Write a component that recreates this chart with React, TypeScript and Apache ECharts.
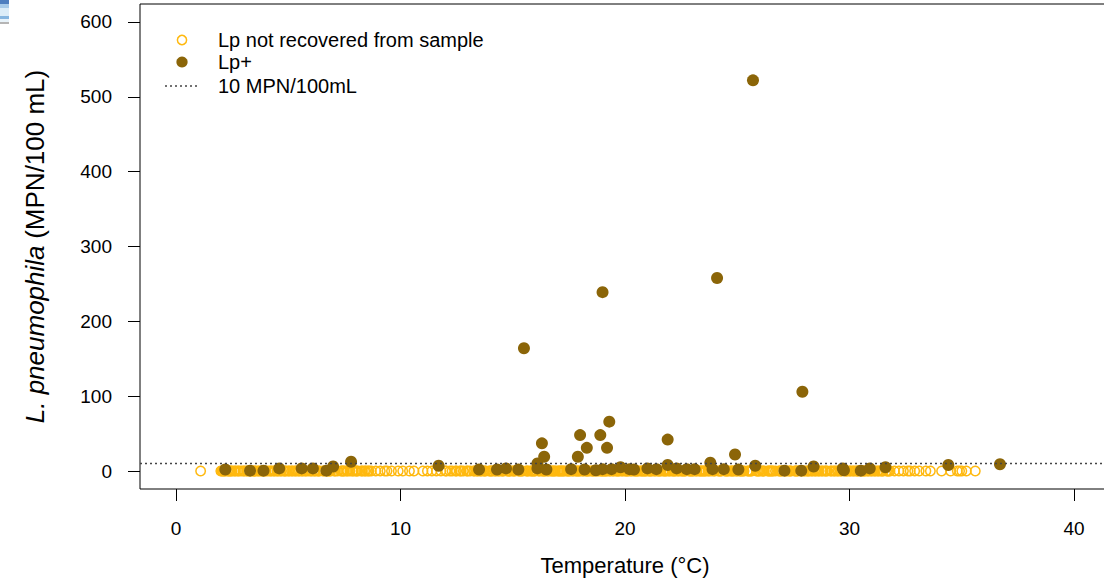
import React, { useEffect, useRef } from "react";
import * as echarts from "echarts";

const X_TICKS = [0, 10, 20, 30, 40];
const Y_TICKS = [0, 100, 200, 300, 400, 500, 600];
const THRESHOLD = 10;

// Samples where Lp was not recovered (MPN = 0)
const NOT_RECOVERED_TEMPS = [
  1.1,
  2.0, 2.1, 2.2, 2.3, 2.4, 2.5, 2.6, 2.8, 2.9, 3.0, 3.2, 3.3, 3.4, 3.5, 3.7, 3.8, 4.0, 4.1, 4.2,
  4.4, 4.5, 4.7, 4.8, 4.9, 5.0, 5.2, 5.3, 5.5, 5.6, 5.8, 5.9, 6.0, 6.2, 6.3, 6.4, 6.6, 6.8, 6.9,
  7.1, 7.2, 7.4, 7.5, 7.6, 7.9, 8.0, 8.1, 8.3, 8.4, 8.6, 8.7, 8.9, 9.1, 9.3, 9.4, 9.6, 9.9, 10.1,
  10.4, 10.6, 11.0, 11.2, 11.4, 11.6, 11.8, 12.0, 12.2, 12.3, 12.5, 12.7, 12.8, 13.0, 13.1, 13.3,
  13.4, 13.6, 13.7, 13.8, 14.0, 14.1, 14.2, 14.4, 14.5, 14.6, 14.8, 14.9, 15.0, 15.1, 15.3, 15.4,
  15.6, 15.7, 15.8, 15.9, 16.0, 16.2, 16.3, 16.4, 16.6, 16.7, 16.8, 16.9, 17.0, 17.1, 17.2, 17.3,
  17.4, 17.5, 17.7, 17.8, 17.9, 18.0, 18.1, 18.3, 18.4, 18.5, 18.6, 18.8, 18.9, 19.0, 19.1, 19.2,
  19.3, 19.5, 19.6, 19.7, 19.9, 20.0, 20.1, 20.3, 20.4, 20.5, 20.6, 20.7, 20.8, 20.9, 21.1, 21.2,
  21.3, 21.5, 21.6, 21.7, 21.8, 22.0, 22.1, 22.2, 22.4, 22.5, 22.6, 22.7, 22.9, 23.0, 23.2, 23.3,
  23.4, 23.5, 23.6, 23.7, 24.0, 24.2, 24.3, 24.5, 24.6, 24.7, 24.8, 25.0, 25.1, 25.2, 25.3, 25.5,
  25.6, 25.9, 26.0, 26.1, 26.2, 26.4, 26.5, 26.6, 26.7, 26.9, 27.0, 27.2, 27.3, 27.4, 27.6, 27.7,
  28.0, 28.1, 28.2, 28.3, 28.5, 28.6, 28.8, 28.9, 29.0, 29.2, 29.3, 29.5, 29.6, 29.8, 29.9, 30.0,
  30.2, 30.3, 30.4, 30.6, 30.7, 30.8, 31.0, 31.1, 31.3, 31.4, 31.5, 31.7, 31.8, 32.0, 32.2, 32.4,
  32.6, 32.7, 32.9, 33.1, 33.4, 33.6, 34.1, 34.5, 34.8, 34.9, 35.0, 35.2, 35.6,
];
// More not-recovered samples where the band is densest
const NOT_RECOVERED_TEMPS_2 = [
  2.05, 2.15, 2.35, 2.45, 2.65, 2.75, 3.05, 3.15, 3.45, 3.55, 3.65, 3.85, 3.95, 4.25, 4.35, 4.55,
  4.65, 4.85, 5.05, 5.15, 5.35, 5.45, 5.65, 5.75, 6.05, 6.15, 6.35, 6.55, 6.75, 6.85, 7.05, 7.35,
  7.45, 7.65, 7.75, 7.85, 8.05, 8.25, 8.45, 8.55,
  12.05, 12.45, 12.65, 12.95, 13.25, 13.45, 13.55, 13.75, 13.95, 14.05, 14.25, 14.35, 14.55, 14.75,
  14.85, 15.05, 15.25, 15.35, 15.45, 15.65, 15.85, 15.95, 16.15, 16.35, 16.45, 16.55, 16.75, 16.85,
  17.05, 17.15, 17.25, 17.45, 17.55, 17.65, 17.85, 17.95, 18.15, 18.25, 18.35, 18.55, 18.65, 18.75,
  18.95, 19.05, 19.15, 19.35, 19.45, 19.65, 19.75, 19.85, 20.05, 20.15, 20.25, 20.45, 20.55, 20.75,
  20.85, 20.95, 21.05, 21.15, 21.35, 21.45, 21.55, 21.75, 21.85, 21.95, 22.15, 22.25, 22.35, 22.55,
  22.65, 22.85, 22.95, 23.05, 23.15, 23.35, 23.45, 23.55, 23.75, 23.85, 23.95, 24.15, 24.25, 24.45,
  24.55, 24.75, 24.85, 24.95, 25.15, 25.25, 25.45, 25.55, 25.65, 25.85, 25.95, 26.15, 26.35, 26.45,
  26.55, 26.85, 26.95, 27.15, 27.35, 27.55, 27.65, 27.85, 27.95, 28.15, 28.35, 28.45, 28.65, 28.75,
  28.95, 29.15, 29.35, 29.45, 29.65, 29.85, 30.05, 30.15, 30.35, 30.55, 30.65, 30.85, 30.95, 31.15,
  31.25, 31.45, 31.65, 31.75,
];

// Lp+ samples: temperature (°C) and L. pneumophila MPN/100 mL
const LP_POS_TEMPS = [
  2.2, 3.3, 3.9, 4.6, 5.6, 6.1, 6.7, 7.0, 7.8, 11.7, 13.5, 14.3, 14.7, 15.25, 15.5, 16.1, 16.1,
  16.3, 16.4, 16.5, 17.6, 17.9, 18.0, 18.2, 18.3, 18.7, 18.9, 19.0, 19.0, 19.2, 19.3, 19.4, 19.8,
  20.2, 20.4, 21.0, 21.4, 21.9, 21.9, 22.3, 22.75, 23.1, 23.8, 23.9, 24.1, 24.4, 24.9, 25.05,
  25.7, 25.8, 27.1, 27.85, 27.9, 28.4, 29.7, 29.75, 30.5, 30.9, 31.6, 34.4, 36.7,
];
const LP_POS_MPN = [
  2, 0.5, 0.5, 3.5, 3.5, 3.5, 0.5, 6, 12.5, 7, 2, 2, 3.5, 2, 164, 3.5, 10,
  37, 19, 2, 2.5, 19, 48, 2, 31, 1, 48, 2.5, 239, 31, 66, 2.5, 5,
  2.5, 2, 3.5, 2.5, 42, 8, 3.5, 2.5, 2.5, 11, 2.5, 258, 2.5, 22, 2,
  522, 7, 0.5, 0.5, 106, 6, 3.5, 1, 0.5, 3.5, 5, 8, 9,
];

const LEGEND_LABELS = ["Lp not recovered from sample", "Lp+", "10 MPN/100mL"];

const ORANGE = "#FFB90F";
const BROWN = "#8B6508";
const FONT = "Liberation Sans, Arial, sans-serif";

export default function App() {
  const ref = useRef<HTMLDivElement>(null);

  useEffect(() => {
    if (!ref.current) return;
    const chart = echarts.init(ref.current, null, { renderer: "svg" });

    const notRecovered = NOT_RECOVERED_TEMPS.concat(NOT_RECOVERED_TEMPS_2).map((t) => [t, 0]);
    const positives = LP_POS_TEMPS.map((t, i) => [t, LP_POS_MPN[i]]);

    chart.setOption({
      animation: false,
      backgroundColor: "#ffffff",
      grid: {
        left: 140,
        right: 0,
        top: 4,
        bottom: 91,
        show: true,
        borderColor: "#000",
        borderWidth: 1,
        backgroundColor: "transparent",
      },
      xAxis: {
        type: "value",
        min: -1.6,
        max: 41.6,
        splitLine: { show: false },
        axisLine: { show: false, onZero: false },
        axisTick: {
          show: true,
          customValues: X_TICKS,
          length: 12,
          lineStyle: { color: "#000", width: 1 },
        },
        axisLabel: {
          customValues: X_TICKS,
          margin: 30,
          color: "#000",
          fontSize: 19,
          fontFamily: FONT,
        },
        name: "Temperature (°C)",
        nameLocation: "middle",
        nameGap: 65,
        nameTextStyle: { color: "#000", fontSize: 22, fontFamily: FONT },
      },
      yAxis: {
        type: "value",
        min: -24,
        max: 624,
        splitLine: { show: false },
        axisLine: { show: false, onZero: false },
        axisTick: {
          show: true,
          customValues: Y_TICKS,
          length: 12,
          lineStyle: { color: "#000", width: 1 },
        },
        axisLabel: {
          customValues: Y_TICKS,
          margin: 28,
          color: "#000",
          fontSize: 19,
          fontFamily: FONT,
        },
        name: "{i|L. pneumophila}  {n|(MPN/100 mL)}",
        nameLocation: "middle",
        nameGap: 92,
        nameTextStyle: {
          color: "#000",
          fontFamily: FONT,
          rich: {
            i: { fontStyle: "italic", fontSize: 26, fontFamily: FONT, color: "#000" },
            n: { fontSize: 26, fontFamily: FONT, color: "#000" },
          },
        },
      },
      series: [
        {
          type: "scatter",
          name: LEGEND_LABELS[0],
          data: notRecovered,
          symbol: "circle",
          symbolSize: 9.5,
          itemStyle: { color: "rgba(0,0,0,0)", borderColor: ORANGE, borderWidth: 1.5, opacity: 1 },
          silent: true,
          z: 2,
          markLine: {
            silent: true,
            symbol: ["none", "none"],
            label: { show: false },
            lineStyle: { color: "#444", type: [2, 3], width: 1.3 },
            data: [{ yAxis: THRESHOLD }],
          },
        },
        {
          type: "scatter",
          name: LEGEND_LABELS[1],
          data: positives,
          symbol: "circle",
          symbolSize: 12,
          itemStyle: { color: BROWN, borderWidth: 0, opacity: 1 },
          silent: true,
          z: 3,
        },
      ],
      graphic: [
        { type: "rect", shape: { x: 0, y: 0, width: 9, height: 4 }, style: { fill: "#4f7fbf" } },
        { type: "rect", shape: { x: 0, y: 4, width: 9, height: 4 }, style: { fill: "#a8cbe9" } },
        { type: "rect", shape: { x: 0, y: 8, width: 9, height: 8 }, style: { fill: "#dcedf8" } },
        { type: "rect", shape: { x: 0, y: 16, width: 9, height: 3 }, style: { fill: "#86b6e0" } },
        { type: "rect", shape: { x: 0, y: 19, width: 9, height: 3 }, style: { fill: "#e8f3fa" } },
        { type: "rect", shape: { x: 0, y: 22, width: 9, height: 2 }, style: { fill: "#b5b5b5" } },
        {
          type: "circle",
          shape: { cx: 182, cy: 40, r: 4.6 },
          style: { fill: "none", stroke: ORANGE, lineWidth: 1.5 },
        },
        {
          type: "circle",
          shape: { cx: 182, cy: 62, r: 5.6 },
          style: { fill: BROWN },
        },
        {
          type: "line",
          shape: { x1: 165, y1: 86, x2: 200, y2: 86 },
          style: { stroke: "#444", lineWidth: 1.3, lineDash: [2, 3] },
        },
        {
          type: "text",
          x: 218,
          y: 40,
          style: { text: LEGEND_LABELS[0], fill: "#000", font: `20px ${FONT}`, verticalAlign: "middle" },
        },
        {
          type: "text",
          x: 218,
          y: 62,
          style: { text: LEGEND_LABELS[1], fill: "#000", font: `20px ${FONT}`, verticalAlign: "middle" },
        },
        {
          type: "text",
          x: 218,
          y: 86,
          style: { text: LEGEND_LABELS[2], fill: "#000", font: `20px ${FONT}`, verticalAlign: "middle" },
        },
      ],
    });

    return () => chart.dispose();
  }, []);

  return (
    <div
      style={{
        position: "fixed",
        left: 0,
        top: 0,
        width: 1104,
        height: 581,
        overflow: "hidden",
        background: "#fff",
      }}
    >
      <div ref={ref} style={{ width: 1110, height: 581 }} />
    </div>
  );
}
